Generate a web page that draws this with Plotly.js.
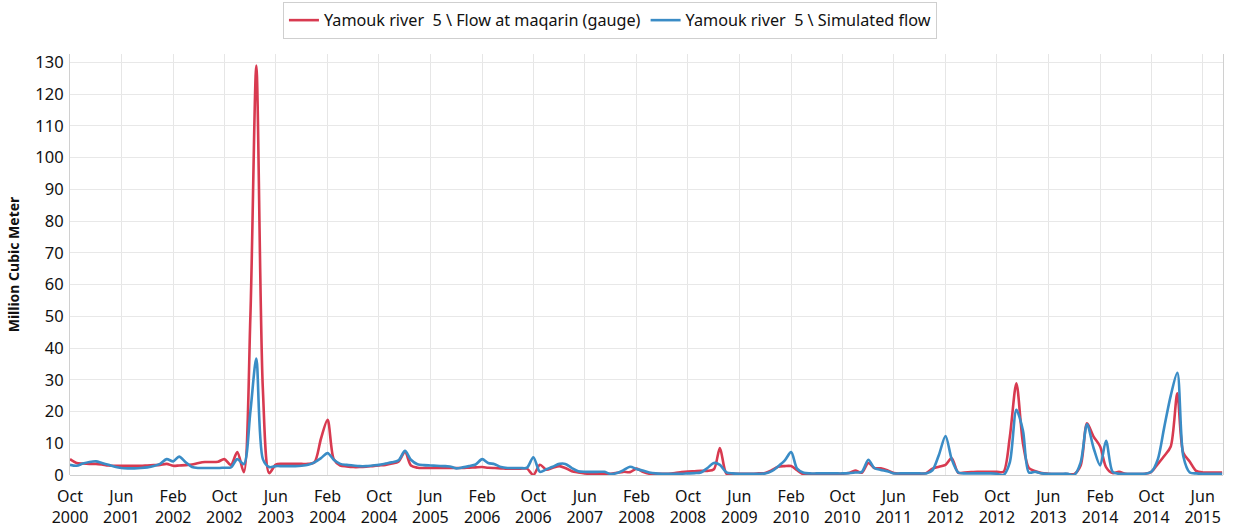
<!DOCTYPE html>
<html>
<head>
<meta charset="utf-8">
<script src="https://cdn.plot.ly/plotly-3.0.1.min.js"></script>
<style>html,body{margin:0;padding:0;background:#fff;}#chart{width:1241px;height:529px;}</style>
</head>
<body>
<div id="chart"></div>
<script>
// Monthly series, first month = October 2000
const startYear = 2000;
const startMonth = 10;
const seriesNames = ["Yamouk river  5 \\ Flow at maqarin (gauge)", "Yamouk river  5 \\ Simulated flow"];
const gaugeFlow = [
  5.0,3.8,3.6,3.5,3.5,3.3,3.0,2.9,2.9,2.9,2.9,2.9,
  3.0,3.1,3.2,3.5,2.9,3.0,3.1,3.3,3.8,4.1,4.1,4.2,
  5.0,3.2,7.2,0.9,50,129,27,0.6,3.3,3.5,3.5,3.5,
  3.5,3.5,4.0,11.5,17.4,5.0,3.0,2.7,2.5,2.5,2.6,2.8,
  3.0,3.2,3.6,4.2,7.3,3.0,2.3,2.2,2.2,2.2,2.2,2.2,
  2.2,2.2,2.3,2.4,2.5,2.3,2.2,2.1,2.0,2.0,2.0,2.0,
  0.0,3.2,1.7,2.3,2.8,2.2,1.2,0.8,0.5,0.4,0.4,0.4,
  0.4,0.7,1.0,0.9,2.0,1.0,0.4,0.4,0.4,0.4,0.6,0.9,
  1.1,1.2,1.3,1.3,1.8,8.5,0.4,0.4,0.4,0.4,0.4,0.5,
  0.6,1.5,2.6,2.8,2.8,1.5,0.2,0.3,0.4,0.4,0.4,0.4,
  0.4,0.6,1.4,0.7,3.8,2.2,2.1,1.5,0.6,0.4,0.4,0.4,
  0.4,0.6,2.0,2.6,3.2,5.3,0.7,0.8,0.9,1.0,1.0,1.0,
  1.0,1.0,12,28.9,10,2.2,1.2,0.6,0.4,0.3,0.3,0.3,
  0.3,3.0,16.3,12.1,9.0,2.5,0.6,1.0,0.4,0.3,0.3,0.4,
  1.0,3.5,6.0,9.0,25.7,7.0,4.2,1.3,0.8,0.8,0.8,0.8
];
const simulatedFlow = [
  3.2,2.9,3.6,4.1,4.3,3.8,3.2,2.6,2.2,2.1,2.1,2.2,
  2.4,2.8,3.5,5.0,4.3,5.8,4.0,2.5,2.2,2.2,2.2,2.2,
  2.3,2.4,5.0,3.4,20,36.7,5,2.5,2.8,2.8,2.8,2.8,
  2.9,3.2,4.0,5.3,6.9,4.8,3.5,3.2,3.0,2.8,2.8,3.0,
  3.2,3.6,4.0,4.6,7.6,4.8,3.4,3.1,3.0,2.9,2.8,2.7,
  2.1,2.4,2.8,3.3,5.0,3.8,3.4,2.5,2.2,2.2,2.2,2.3,
  5.6,1.0,1.8,2.6,3.5,3.5,2.2,1.2,1.0,1.0,1.0,1.0,
  0.3,0.6,1.5,2.6,1.9,1.4,0.8,0.5,0.4,0.4,0.4,0.4,
  0.5,0.6,0.8,2.2,3.8,3.2,0.8,0.5,0.4,0.4,0.4,0.4,
  0.5,1.2,2.7,4.5,7.2,2.0,0.7,0.5,0.5,0.5,0.5,0.5,
  0.5,0.6,0.8,1.0,4.8,2.2,1.6,1.2,0.5,0.5,0.5,0.5,
  0.5,0.5,1.5,6.4,12.3,5.0,0.8,0.5,0.5,0.5,0.5,0.5,
  0.4,0.0,4.0,20.5,14,0.8,1.0,0.5,0.4,0.4,0.4,0.4,
  0.0,4.0,16.0,8.5,3.0,10.8,1.0,0.4,0.4,0.4,0.4,0.4,
  1.0,5.0,15.0,25.0,32.2,6.0,0.8,0.5,0.4,0.4,0.4,0.4
];
const seriesColors = ["#d83a50", "#3a8cc6"];

const months = gaugeFlow.map((_, i) => {
  const total = (startMonth - 1) + i;
  const y = startYear + Math.floor(total / 12);
  const m = (total % 12) + 1;
  return y + "-" + String(m).padStart(2, "0") + "-01";
});

const FONT = "Noto Sans, Open Sans, sans-serif";
const traces = [gaugeFlow, simulatedFlow].map((vals, k) => ({
  type: "scatter",
  mode: "lines",
  x: months,
  y: vals,
  name: seriesNames[k],
  line: {color: seriesColors[k], width: 2.6, shape: "spline", smoothing: 0.8}
}));

const layout = {
  width: 1241, height: 529,
  margin: {l: 70, r: 18, t: 54, b: 54},
  paper_bgcolor: "#fff", plot_bgcolor: "#fff",
  font: {family: FONT, color: "#111", size: 16},
  showlegend: true,
  legend: {
    orientation: "h",
    xref: "container", yref: "container",
    x: 0.228, xanchor: "left",
    y: 0.996, yanchor: "top",
    bordercolor: "#cfcfcf", borderwidth: 1, bgcolor: "#fff",
    font: {family: FONT, size: 16.2, color: "#111"},
    itemwidth: 30, tracegroupgap: 0
  },
  xaxis: {
    type: "date",
    range: ["2000-10-01", "2015-09-05"],
    tick0: "2000-10-01", dtick: "M8",
    tickformat: "%b<br>%Y",
    showgrid: true, gridcolor: "#e6e6e6",
    showline: false, zeroline: false,
    ticks: "", ticklabelstandoff: 10,
    tickfont: {family: FONT, size: 16, color: "#111"}
  },
  yaxis: {
    range: [0, 132.6],
    dtick: 10, tick0: 0,
    showgrid: true, gridcolor: "#e8e8e8",
    showline: true, linecolor: "#d0d0d0", mirror: true,
    zeroline: true, zerolinecolor: "#d0d0d0",
    ticks: "", ticklabelstandoff: 2,
    tickfont: {family: FONT, size: 16.5, color: "#111"},
    title: {text: "<b>Million Cubic Meter</b>", font: {family: FONT, size: 14, color: "#111"}, standoff: 12}
  }
};

Plotly.newPlot("chart", traces, layout, {displayModeBar: false, staticPlot: true});
</script>
</body>
</html>
